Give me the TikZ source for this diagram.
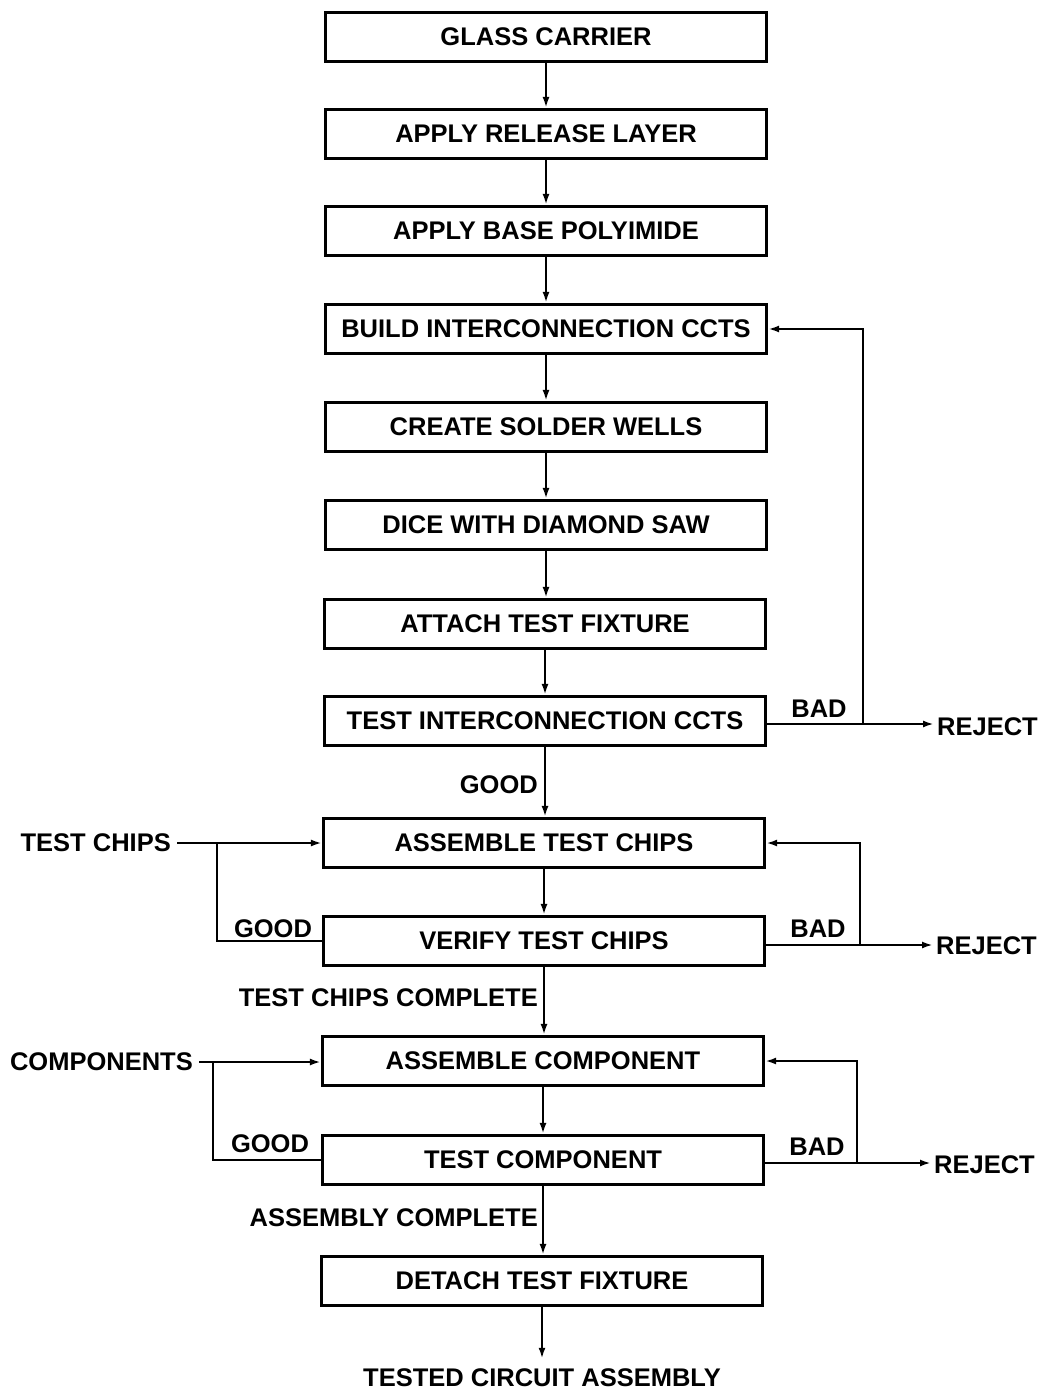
\documentclass[tikz,border=0pt]{standalone}
\usepackage{fontspec}
\setmainfont{Liberation Sans}
\usetikzlibrary{arrows.meta}
\begin{document}
\begin{tikzpicture}[x=1pt,y=-1pt,
  every node/.style={font=\fontsize{25.5}{29}\selectfont\bfseries},
  box/.style={draw,line width=3.2pt,minimum width=441pt,minimum height=49pt,inner sep=0pt},
  lbl/.style={inner sep=3pt},
  conn/.style={line width=2.8pt},
  arr/.style={conn,-{Latex[length=11pt,width=7pt]}}]
\useasboundingbox (0,0) rectangle (1045,1391);
\node[box] (b1) at (546,37) {GLASS CARRIER};
\node[box] (b2) at (546,134) {APPLY RELEASE LAYER};
\node[box] (b3) at (546,231) {APPLY BASE POLYIMIDE};
\node[box] (b4) at (546,329) {BUILD INTERCONNECTION CCTS};
\node[box] (b5) at (546,427) {CREATE SOLDER WELLS};
\node[box] (b6) at (546,525) {DICE WITH DIAMOND SAW};
\node[box] (b7) at (545,624) {ATTACH TEST FIXTURE};
\node[box] (b8) at (545,721) {TEST INTERCONNECTION CCTS};
\node[box] (b9) at (544,843) {ASSEMBLE TEST CHIPS};
\node[box] (b10) at (544,941) {VERIFY TEST CHIPS};
\node[box] (b11) at (543,1061) {ASSEMBLE COMPONENT};
\node[box] (b12) at (543,1160) {TEST COMPONENT};
\node[box] (b13) at (542,1281) {DETACH TEST FIXTURE};
% main flow
\draw[arr] (b1) -- (b2);
\draw[arr] (b2) -- (b3);
\draw[arr] (b3) -- (b4);
\draw[arr] (b4) -- (b5);
\draw[arr] (b5) -- (b6);
\draw[arr] (b6.south) -- (b6.south |- b7.north);
\draw[arr] (b7) -- (b8);
\draw[arr] (b8.south) -- (b8.south |- b9.north);
\draw[arr] (b9) -- (b10);
\draw[arr] (b10.south) -- (b10.south |- b11.north);
\draw[arr] (b11) -- (b12);
\draw[arr] (b12.south) -- (b12.south |- b13.north);
\node[inner sep=10pt] (out) at (542,1378) {TESTED CIRCUIT ASSEMBLY};
\draw[arr] (b13) -- (out);
% labels on main flow
\node[lbl,anchor=east] (g1) at (541,785) {GOOD};
\node[lbl,anchor=east] (tcc) at (541,998) {TEST CHIPS COMPLETE};
\node[lbl,anchor=east] (ac) at (541,1218) {ASSEMBLY COMPLETE};
% loop 1
\coordinate (j1) at (863,724);
\node[lbl,anchor=west] (r1) at (934,727) {REJECT};
\node[lbl] (bad1) at (819,709) {BAD};
\draw[conn] (b8.east |- j1) -- (j1);
\draw[arr] (j1) |- (b4.east);
\draw[arr] (j1) -- (r1.west |- j1);
% loop 2
\coordinate (j2) at (860,945);
\node[lbl,anchor=west] (r2) at (933,946) {REJECT};
\node[lbl] (bad2) at (818,929) {BAD};
\draw[conn] (b10.east |- j2) -- (j2);
\draw[arr] (j2) |- (b9.east);
\draw[arr] (j2) -- (r2.west |- j2);
% loop 3
\coordinate (j3) at (857,1163);
\node[lbl,anchor=west] (r3) at (931,1165) {REJECT};
\node[lbl] (bad3) at (817,1147) {BAD};
\draw[conn] (b12.east |- j3) -- (j3);
\draw[arr] (j3) |- (b11.east);
\draw[arr] (j3) -- (r3.west |- j3);
% inputs
\node[lbl,anchor=east,inner sep=6pt] (tc) at (177,843) {TEST CHIPS};
\coordinate (k1) at (217,843);
\node[lbl] (g2) at (273,929) {GOOD};
\draw[arr] (tc.east) -- (b9.west);
\draw[conn] (k1) |- (b10.west);
\node[lbl,anchor=east,inner sep=6pt] (cp) at (199,1062) {COMPONENTS};
\coordinate (k2) at (213,1062);
\node[lbl] (g3) at (270,1144) {GOOD};
\draw[arr] (cp.east) -- (b11.west |- cp.east);
\draw[conn] (k2) |- (b12.west);
\end{tikzpicture}
\end{document}
